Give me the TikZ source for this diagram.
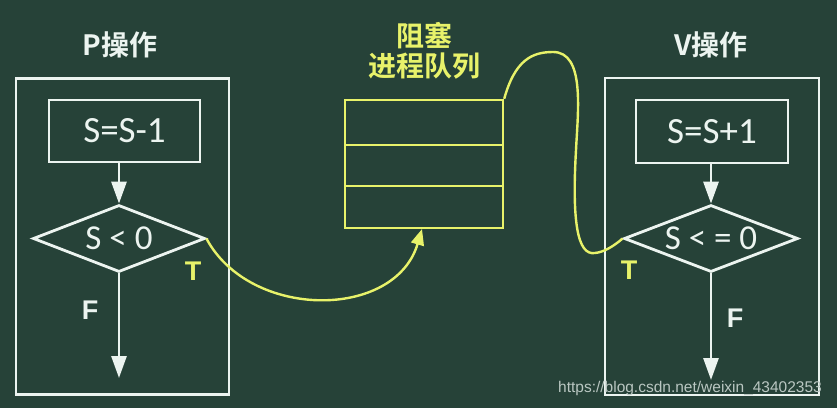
\documentclass[tikz,border=0pt]{standalone}
\usepackage{fontspec}
\setmainfont{Carlito}
\newfontfamily\cjkbold[BoldFont={Noto Sans CJK SC Bold}]{Noto Sans CJK SC}
\newfontfamily\labfont{Liberation Sans}
\usetikzlibrary{shapes.geometric,arrows.meta}
\definecolor{board}{RGB}{38,66,56}
\definecolor{chalk}{RGB}{236,244,240}
\definecolor{ylw}{RGB}{232,242,106}
\tikzset{
  stepbox/.style={draw=chalk, line width=2.8pt, inner sep=0pt, text=chalk, font=\fontsize{37}{40}\selectfont},
  decision/.style={diamond, aspect=2.6, draw=chalk, line width=2.8pt, inner sep=0pt, text=chalk, font=\fontsize{35}{40}\selectfont},
  frame/.style={draw=chalk, line width=2.8pt, inner sep=0pt},
  title/.style={text=chalk, font=\cjkbold\bfseries\fontsize{28}{32}\selectfont},
  ytitle/.style={text=ylw, font=\cjkbold\bfseries\fontsize{28}{32}\selectfont},
  tlabel/.style={text=ylw, font=\labfont\bfseries\fontsize{27}{30}\selectfont},
  flabel/.style={text=chalk, font=\labfont\bfseries\fontsize{27}{30}\selectfont},
  flow/.style={draw=chalk, line width=2.8pt, -{Triangle[length=22pt,width=15pt]}},
  yflow/.style={draw=ylw, line width=2.4pt},
}
\begin{document}
\begin{tikzpicture}[x=1pt,y=-1pt]
\fill[board] (0,0) rectangle (837,408);
\useasboundingbox (0,0) rectangle (837,408);
% P operation
\node[title] (pt) at (120,45) {P操作};
\node[frame, minimum width=213pt, minimum height=316pt] (pbox) at (122.5,236.5) {};
\node[stepbox, minimum width=151pt, minimum height=62pt] (pr) at (124.5,131) {S=S-1};
\node[decision, minimum width=172pt, minimum height=67pt] (pd) at (119,238.5) {S < 0};
\coordinate (pend) at (119,378);
\draw[flow] (pr.south -| pd.north) -- (pd.north);
\draw[flow] (pd.south) -- (pend);
\node[tlabel] (pT) at (193,271) {T};
\node[flabel] (pF) at (90,310) {F};
% queue
\node[ytitle, align=center] (qt) at (424,51) {阻塞\\[-2pt]进程队列};
\node[draw=ylw, line width=2.4pt, minimum width=158pt, minimum height=128pt, inner sep=0pt] (q) at (424,164) {};
\draw[ylw, line width=2.4pt] (345,145) -- (503,145);
\draw[ylw, line width=2.4pt] (345,186) -- (503,186);
% V operation
\node[title] (vt) at (711,45) {V操作};
\node[frame, minimum width=214pt, minimum height=317pt] (vbox) at (712,236.5) {};
\node[stepbox, minimum width=152pt, minimum height=63pt] (vr) at (712,131.5) {S=S+1};
\node[decision, minimum width=174pt, minimum height=67pt] (vd) at (711,238.5) {S < = 0};
\coordinate (vend) at (711,380);
\draw[flow] (vr.south -| vd.north) -- (vd.north);
\draw[flow] (vd.south) -- (vend);
\node[tlabel] (vT) at (629,270) {T};
\node[flabel] (vF) at (735,318) {F};
% yellow connectors
\coordinate (qin) at (422,229);
\draw[yflow, -{Triangle[length=16pt,width=13pt]}] (pd.east) .. controls (250,320) and (395,320) .. (qin);
\draw[yflow] (q.north east) .. controls (515,60) and (532,52) .. (553,52)
  .. controls (585,52) and (578,110) .. (576,150)
  .. controls (572,220) and (577,256) .. (595,253)
  .. controls (605,252) and (615,245) .. (vd.west);
% watermark
\node[text=chalk!75!board, font=\labfont\fontsize{15.5}{17}\selectfont] (wm) at (690,388) {https://blog.csdn.net/weixin\_43402353};
\end{tikzpicture}
\end{document}
